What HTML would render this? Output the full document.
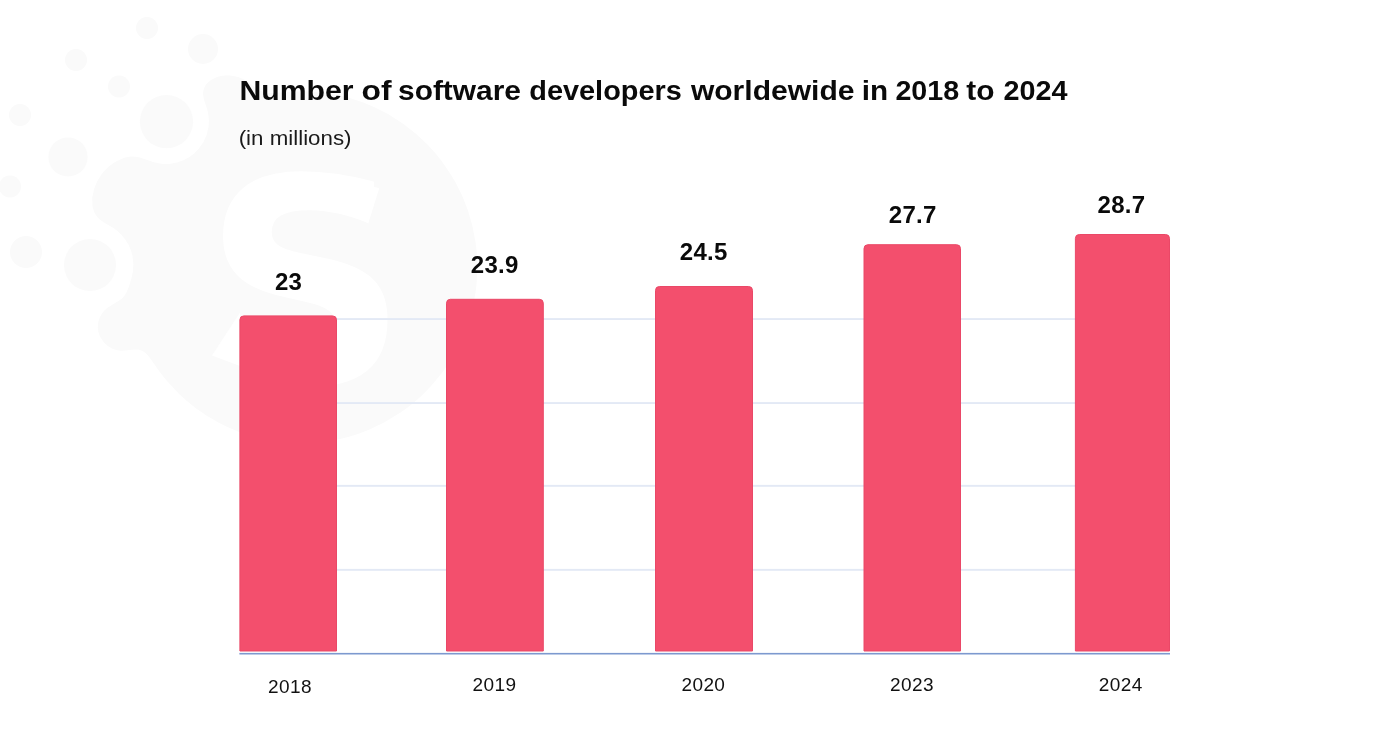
<!DOCTYPE html>
<html lang="en">
<head>
<meta charset="utf-8">
<title>Number of software developers worldewide in 2018 to 2024</title>
<style>
html,body{margin:0;padding:0;background:#fff;}
body{width:1400px;height:735px;overflow:hidden;position:relative;font-family:"Liberation Sans",sans-serif;}
svg{position:absolute;left:0;top:0;display:block;}
text{font-family:"Liberation Sans",sans-serif;fill:#0a0a0a;}
.t{font-weight:700;font-size:27px;}
.s{font-size:20px;fill:#1a1a1a;}
.v{font-weight:700;font-size:24px;text-anchor:middle;letter-spacing:0.3px;}
.y{font-size:19px;text-anchor:middle;fill:#111;letter-spacing:0.4px;}
</style>
</head>
<body>
<svg width="1400" height="735" viewBox="0 0 1400 735">
  <rect width="1400" height="735" fill="#ffffff"/>
  <!-- watermark -->
  <g id="wm">
    <path fill="#fafafa" d="M310.5 443.1 298.0 443.3 287.5 442.8 276.0 441.5 262.5 439.0 250.0 435.7 239.3 432.0 228.0 427.3 218.5 422.6 207.2 416.0 196.5 408.7 186.3 400.5 179.1 394.0 166.5 380.5 159.8 372.0 148.5 356.0 145.0 352.5 141.5 350.5 138.5 349.6 134.0 349.4 125.5 350.5 121.0 350.7 117.0 350.2 112.0 348.5 107.5 345.8 104.0 342.6 100.2 337.0 98.4 332.0 97.8 327.5 98.3 322.0 100.0 317.0 102.0 313.5 104.4 310.5 107.5 307.7 121.5 298.9 123.9 296.5 126.5 292.5 129.0 286.5 131.8 277.0 132.9 271.5 133.4 264.0 132.5 255.9 131.0 250.5 128.4 244.5 124.9 239.0 121.6 235.0 117.5 231.1 113.0 227.8 104.0 222.5 99.5 219.2 97.3 217.0 94.3 212.5 92.4 206.0 92.3 197.5 94.1 189.0 97.1 181.5 101.4 174.5 104.5 170.8 108.9 166.5 113.5 163.0 117.0 160.9 125.0 157.6 130.5 156.6 136.0 156.8 140.0 157.5 153.0 161.9 158.5 163.3 163.5 163.9 169.0 163.9 177.0 162.6 183.0 160.5 189.5 157.0 194.1 153.5 198.5 149.1 203.5 142.0 206.6 135.0 208.6 126.5 208.9 121.0 208.5 115.4 207.5 110.5 204.0 99.5 203.2 95.5 203.1 92.5 203.9 88.5 205.4 85.5 206.9 83.5 211.0 80.0 217.0 77.1 221.0 76.0 225.0 75.4 230.5 75.4 238.2 77.0 242.5 78.7 246.0 80.6 256.6 88.5 260.0 90.5 263.5 92.0 267.5 92.9 274.5 93.0 292.5 91.4 310.0 91.4 326.0 92.9 339.5 95.4 349.0 97.8 362.0 102.0 374.5 107.2 388.0 114.1 403.5 124.0 416.2 134.0 428.0 145.1 436.0 154.0 441.2 160.5 446.5 167.9 451.7 176.0 456.1 183.5 460.4 192.0 462.9 197.5 468.0 210.8 472.4 226.0 475.6 242.5 476.7 252.0 477.3 264.5 476.6 283.5 475.6 292.0 473.9 301.5 471.9 310.5 469.2 320.0 466.5 328.0 462.0 339.0 458.2 347.0 453.0 356.5 442.7 372.0 431.5 385.6 423.4 394.0 417.4 399.5 409.0 406.4 400.5 412.6 384.0 422.6 369.5 429.5 358.0 433.9 348.0 437.0 339.0 439.2 326.5 441.5z"/>
    <g fill="#fafafa">
      <circle cx="147" cy="28" r="11"/>
      <circle cx="203" cy="49" r="15"/>
      <circle cx="76" cy="60" r="11"/>
      <circle cx="119" cy="86.500" r="11"/>
      <circle cx="20" cy="115" r="11"/>
      <circle cx="166.500" cy="121.600" r="26.6"/>
      <circle cx="68" cy="157" r="19.600"/>
      <circle cx="10" cy="186.500" r="11"/>
      <circle cx="26" cy="252" r="16"/>
      <circle cx="90" cy="265" r="26"/>
    </g>
    <text x="202.500" y="383.500" style="font-family:'DejaVu Sans',sans-serif;font-size:286px;font-weight:700;fill:#ffffff">S</text>
    <!-- terminal shaping of the logo letter -->
    <path fill="#ffffff" d="M373 186.500 379.300 188.300 373 208z"/>
    <path fill="#fafafa" d="M374.600 203.200 375 227 367.400 226 369 221z"/>
    <path fill="#fafafa" d="M221 322H241V388H221z"/>
    <path fill="#ffffff" d="M240 312.500 212 355.500 240 366z"/>
  </g>
  <!-- gridlines -->
  <g fill="#e3e9f5">
    <rect x="240" y="318.100" width="930" height="1.900"/>
    <rect x="240" y="402.100" width="930" height="1.900"/>
    <rect x="240" y="484.900" width="930" height="1.900"/>
    <rect x="240" y="568.900" width="930" height="1.900"/>
  </g>
  <!-- bars -->
  <g fill="#f34f6d" stroke="#ea4867" stroke-width="1">
    <path d="M239.9 651.0V319.8a3.9 3.9 0 0 1 3.9-3.9H332.6a3.9 3.9 0 0 1 3.9 3.9V651.0z"/>
    <path d="M446.5 651.0V303.2a3.9 3.9 0 0 1 3.9-3.9H539.4a3.9 3.9 0 0 1 3.9 3.9V651.0z"/>
    <path d="M655.5 651.0V290.4a3.9 3.9 0 0 1 3.9-3.9H748.6a3.9 3.9 0 0 1 3.9 3.9V651.0z"/>
    <path d="M864.0 651.0V248.6a3.9 3.9 0 0 1 3.9-3.9H956.6a3.9 3.9 0 0 1 3.9 3.9V651.0z"/>
    <path d="M1075.4 651.0V238.4a3.9 3.9 0 0 1 3.9-3.9H1165.6a3.9 3.9 0 0 1 3.9 3.9V651.0z"/>
  </g>
  <!-- axis -->
  <rect x="239.400" y="652.900" width="930.600" height="1.600" fill="#7d99cf"/>
  <!-- title -->
  <text class="t" y="100"><tspan x="239.4" textLength="114.2" lengthAdjust="spacingAndGlyphs">Number</tspan> <tspan x="361.6" textLength="30.0" lengthAdjust="spacingAndGlyphs">of</tspan> <tspan x="398.0" textLength="123.0" lengthAdjust="spacingAndGlyphs">software</tspan> <tspan x="529.3" textLength="152.5" lengthAdjust="spacingAndGlyphs">developers</tspan> <tspan x="690.9" textLength="163.6" lengthAdjust="spacingAndGlyphs">worldewide</tspan> <tspan x="861.7" textLength="26.4" lengthAdjust="spacingAndGlyphs">in</tspan> <tspan x="895.4" textLength="63.8" lengthAdjust="spacingAndGlyphs">2018</tspan> <tspan x="966.3" textLength="28.2" lengthAdjust="spacingAndGlyphs">to</tspan> <tspan x="1003.6" textLength="64.0" lengthAdjust="spacingAndGlyphs">2024</tspan></text>
  <text class="s" x="238.7" y="145" textLength="112.8" lengthAdjust="spacingAndGlyphs">(in millions)</text>
  <!-- values -->
  <text class="v" x="288.600" y="289.600">23</text>
  <text class="v" x="494.800" y="272.500">23.9</text>
  <text class="v" x="703.800" y="260.300">24.5</text>
  <text class="v" x="912.700" y="223">27.7</text>
  <text class="v" x="1121.500" y="212.500">28.7</text>
  <!-- years -->
  <text class="y" x="290" y="692.600">2018</text>
  <text class="y" x="494.500" y="691.400">2019</text>
  <text class="y" x="703.400" y="691.400">2020</text>
  <text class="y" x="912" y="691.400">2023</text>
  <text class="y" x="1120.800" y="691.400">2024</text>
</svg>
</body>
</html>
